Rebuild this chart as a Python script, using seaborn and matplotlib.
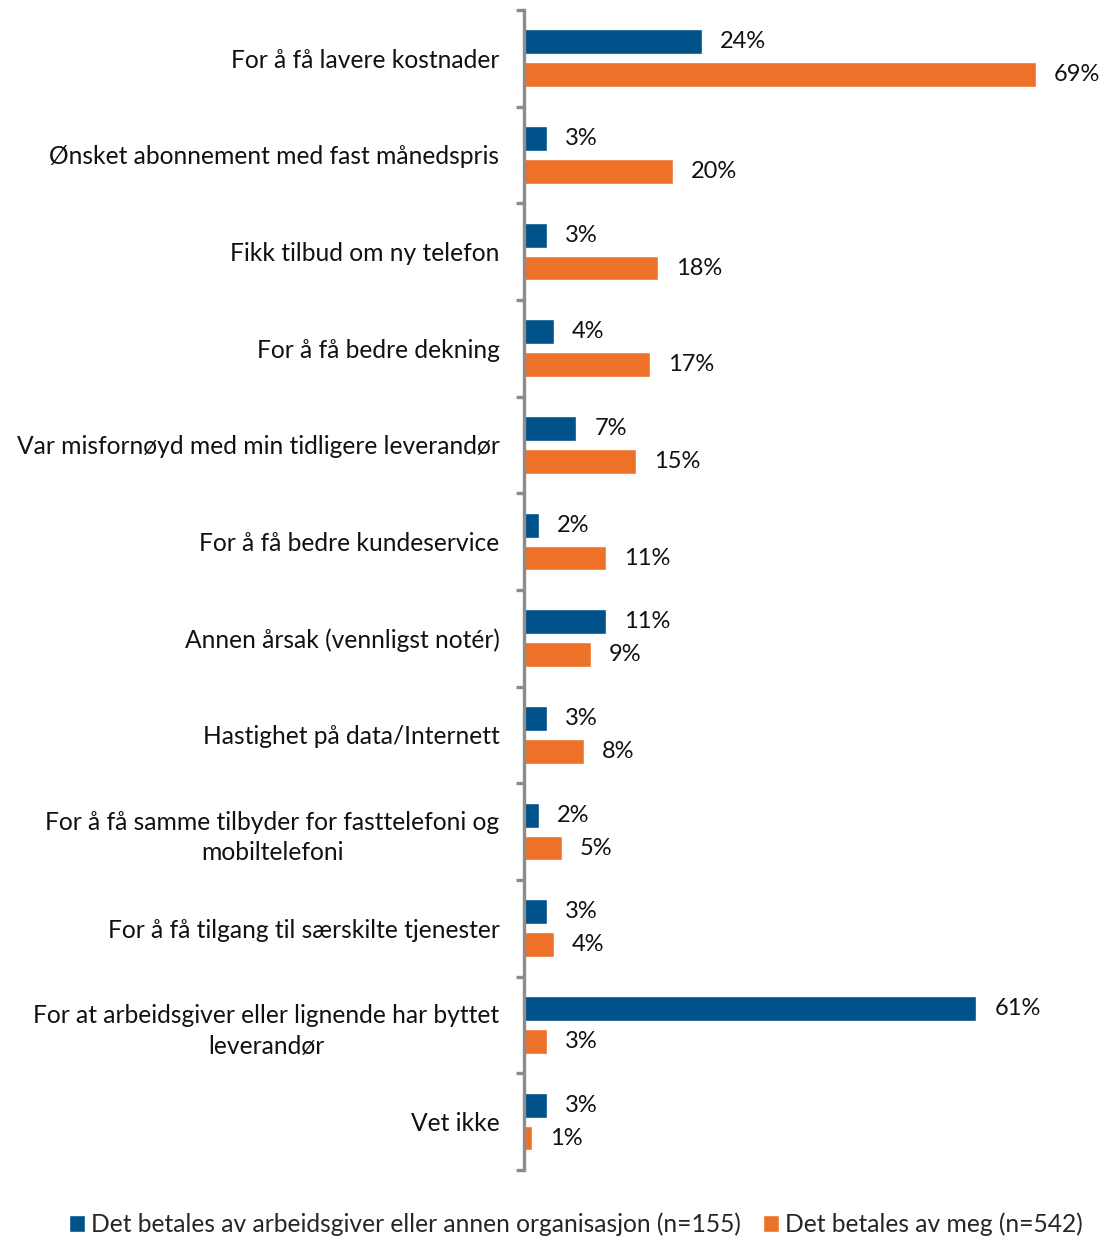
import pandas as pd
import numpy as np
import seaborn as sns
import matplotlib.pyplot as plt
from matplotlib.ticker import FixedLocator

# data
categories = [
    "For å få lavere kostnader",
    "Ønsket abonnement med fast månedspris",
    "Fikk tilbud om ny telefon",
    "For å få bedre dekning",
    "Var misfornøyd med min tidligere leverandør",
    "For å få bedre kundeservice",
    "Annen årsak (vennligst notér)",
    "Hastighet på data/Internett",
    "For å få samme tilbyder for fasttelefoni og\nmobiltelefoni",
    "For å få tilgang til særskilte tjenester",
    "For at arbeidsgiver eller lignende har byttet\nleverandør",
    "Vet ikke",
]
employer = [24, 3, 3, 4, 7, 2, 11, 3, 2, 3, 61, 3]
self_paid = [69, 20, 18, 17, 15, 11, 9, 8, 5, 4, 3, 1]
series_names = ["Det betales av arbeidsgiver eller annen organisasjon (n=155)",
                "Det betales av meg (n=542)"]

df = pd.DataFrame({
    "category": categories * 2,
    "value": employer + self_paid,
    "series": [series_names[0]] * len(categories) + [series_names[1]] * len(categories),
})

sns.set_style("white")
plt.rcParams['font.family'] = ['Lato', 'DejaVu Sans']

colors = ["#00528A", "#EE7129"]

fig = plt.figure(figsize=(11.03, 12.38), dpi=100)
ax = fig.add_axes([0.4755, 0.055, 0.522, 0.937])

sns.barplot(data=df, y="category", x="value", hue="series", palette=colors,
            width=0.68, gap=0.24, orient="h", ax=ax, legend=True, saturation=1)

# value labels
for cont in ax.containers:
    ax.bar_label(cont, labels=[f"{int(v)}%" for v in cont.datavalues],
                 padding=13, fontsize=17, color="#111111")

ax.set_xlim(0, 77.7)
ax.set_ylim(len(categories) - 0.5, -0.5)
ax.set_xlabel("")
ax.set_ylabel("")
ax.set_xticks([])

for s in ["top", "right", "bottom"]:
    ax.spines[s].set_visible(False)
ax.spines["left"].set_color("#8C8C8C")
ax.spines["left"].set_linewidth(2.4)

ax.yaxis.set_minor_locator(FixedLocator(np.arange(-0.5, len(categories), 1)))
ax.tick_params(axis="y", which="major", length=0, pad=18, labelsize=17.7)
ax.tick_params(axis="y", which="minor", length=6, width=2.4, color="#8C8C8C", left=True)
for lbl in ax.get_yticklabels():
    lbl.set_multialignment("center")
    lbl.set_linespacing(1.4)
    lbl.set_color("#111111")

ax.legend(loc="center", bbox_to_anchor=(0.089, -0.047), ncol=2, frameon=False,
          fontsize=17.7, handlelength=0.65, handleheight=0.65, handletextpad=0.25,
          columnspacing=0.9, borderaxespad=0)

fig.savefig("out.png", dpi=100)
